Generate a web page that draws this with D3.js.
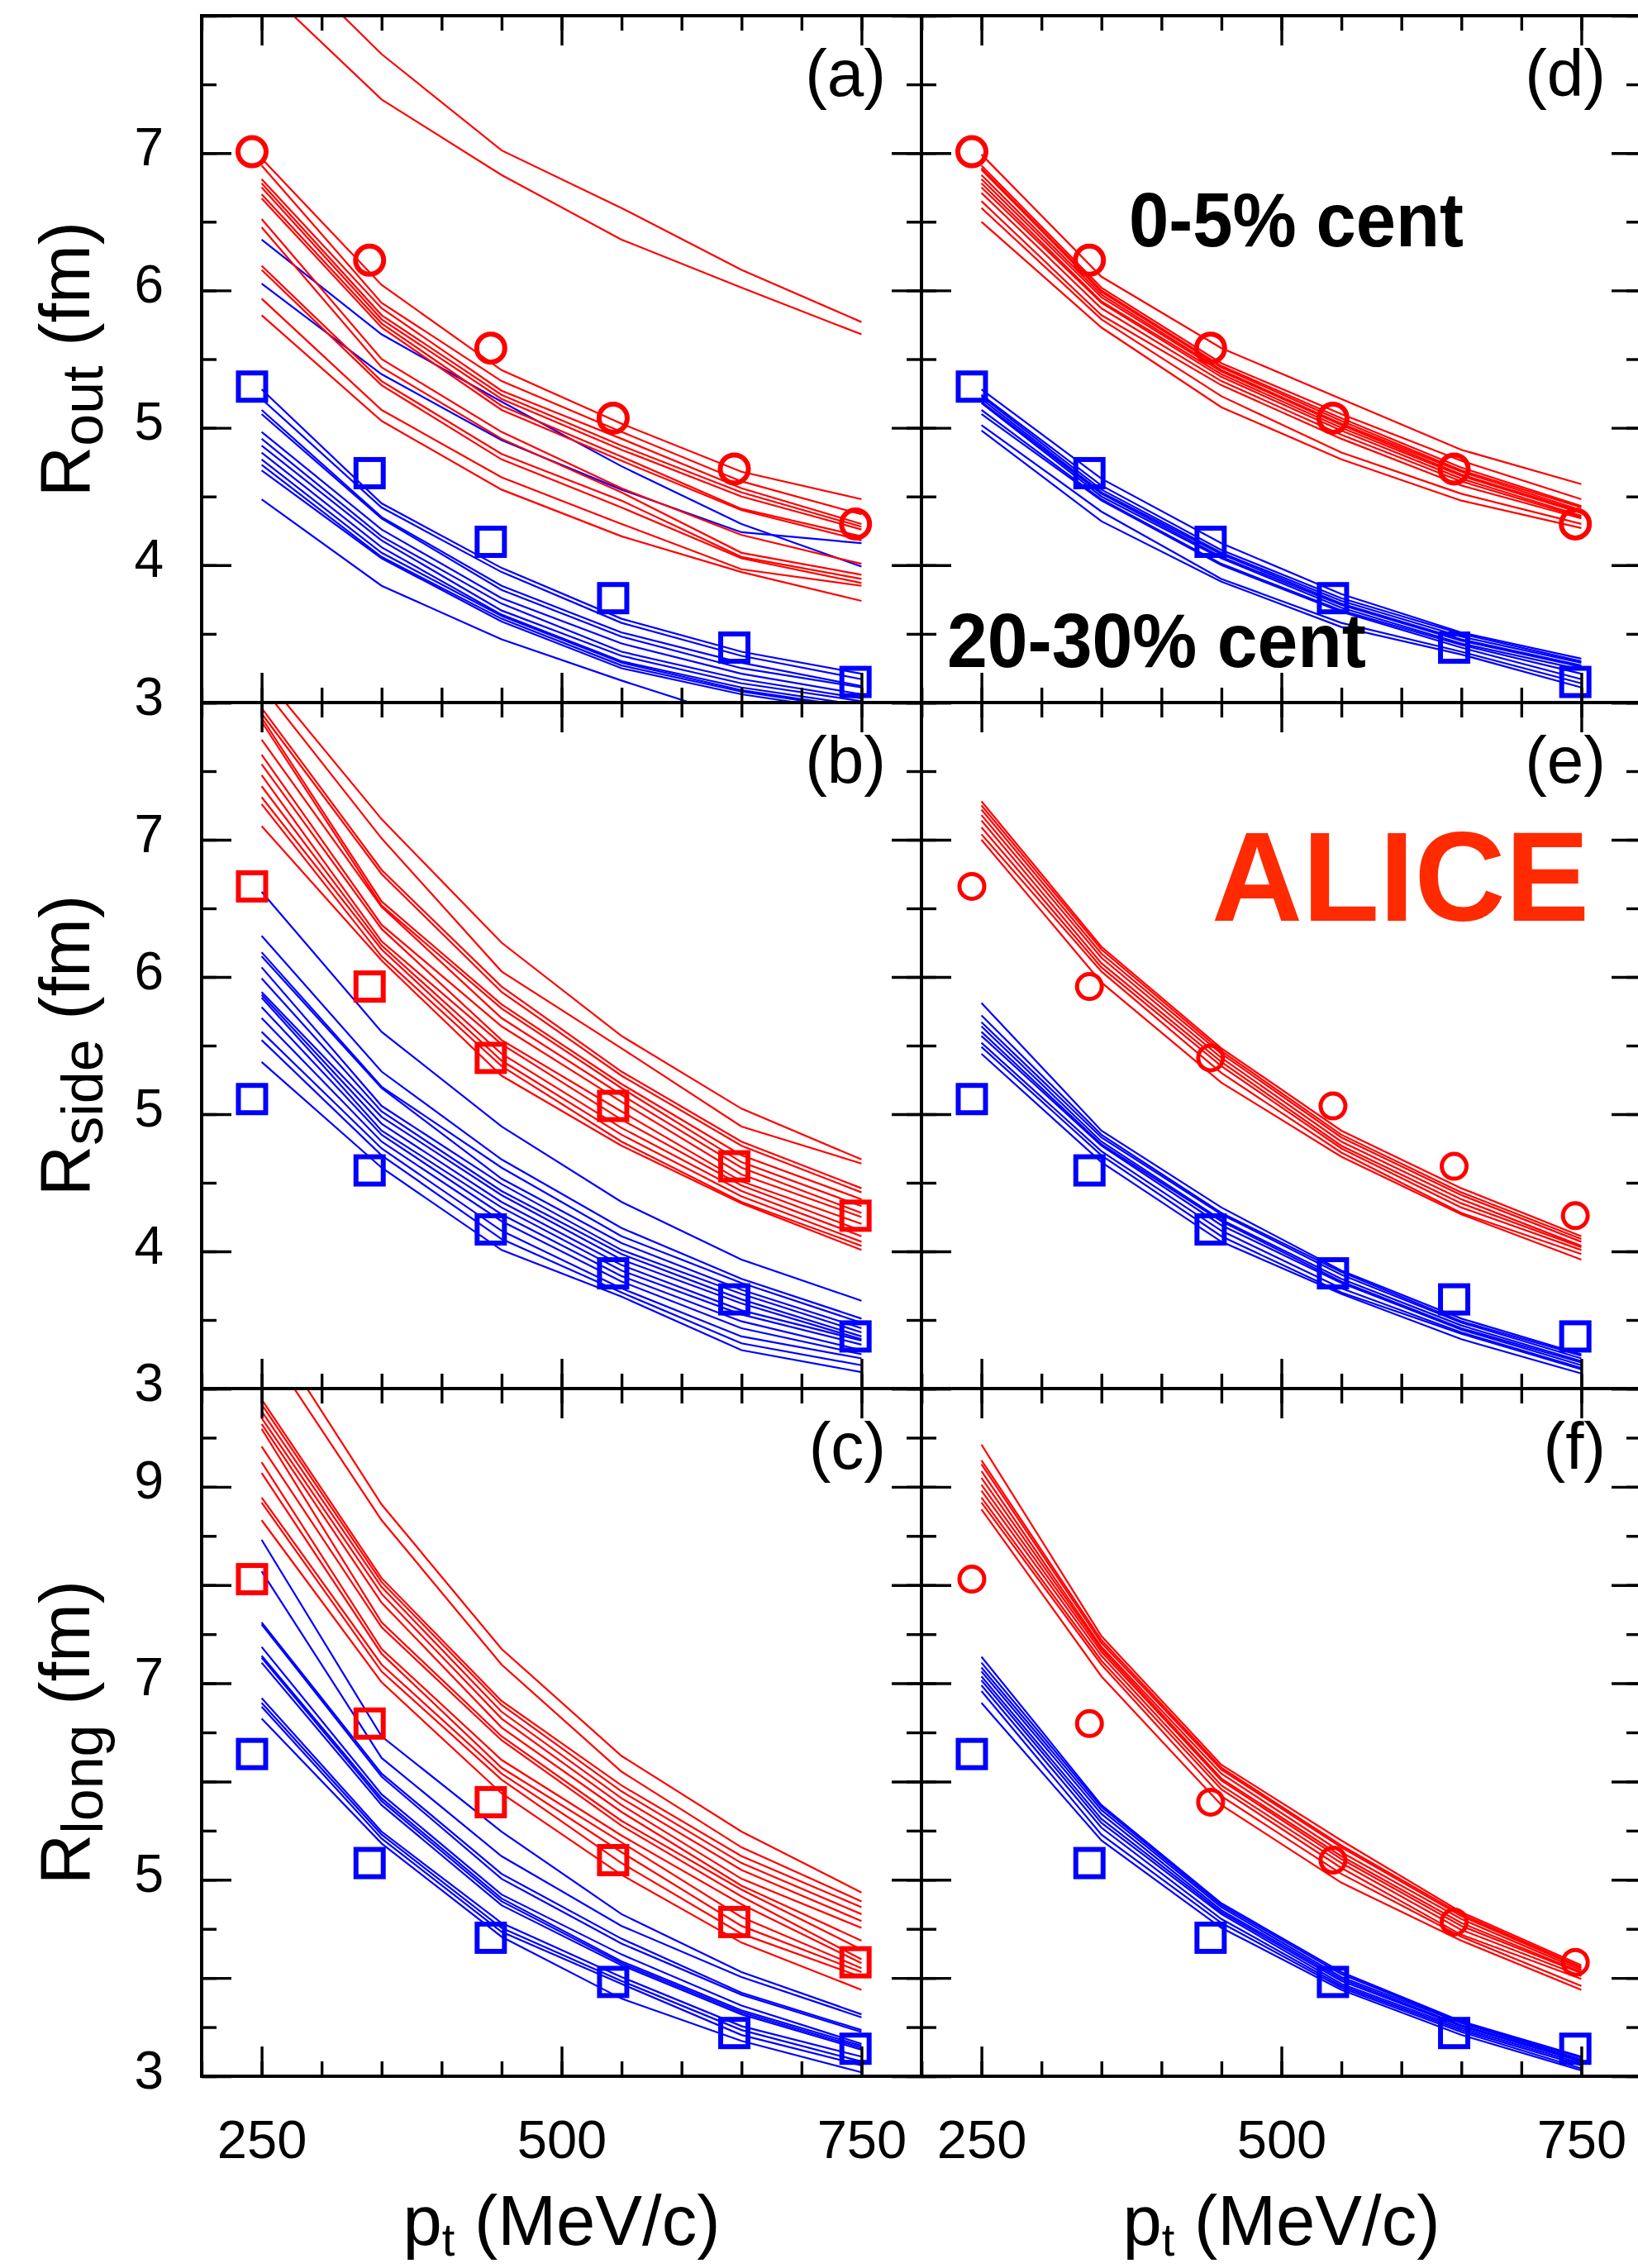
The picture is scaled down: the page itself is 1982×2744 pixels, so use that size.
<!DOCTYPE html>
<html>
<head>
<meta charset="utf-8">
<script src="https://cdn.jsdelivr.net/npm/d3@7"></script>
<style>
  body { margin: 0; background: #fff; }
  svg { display: block; }
  text { font-family: "Liberation Sans", Arial, Helvetica, sans-serif; }
</style>
</head>
<body>
<svg id="chart" width="1982" height="2744"></svg>
<script>
// pt where the model curves are evaluated, and where the ALICE points sit
const PT_MODEL = [250, 350, 450, 550, 650, 750];
const PT_DATA = [242, 340, 441, 543, 644, 745];

// ALICE radii (fm)
const ROUT_0_5   = [7.01, 6.22, 5.58, 5.07, 4.70, 4.30];
const ROUT_20_30 = [5.30, 4.67, 4.17, 3.76, 3.40, 3.15];
const RSIDE_0_5   = [6.66, 5.93, 5.41, 5.06, 4.62, 4.26];
const RSIDE_20_30 = [5.11, 4.59, 4.16, 3.84, 3.65, 3.38];
const RLONG_0_5   = [8.06, 6.59, 5.79, 5.20, 4.57, 4.16];
const RLONG_20_30 = [6.28, 5.17, 4.41, 3.96, 3.44, 3.28];

// model curves, one row per parameter set
const MODEL_A_RED = [
  [8.22, 7.39, 6.84, 6.37, 6.02, 5.68],
  [8.58, 7.72, 7.02, 6.60, 6.15, 5.77],
  [6.96, 6.04, 5.42, 5.03, 4.68, 4.48],
  [6.91, 5.91, 5.34, 4.97, 4.61, 4.37],
  [6.81, 5.87, 5.27, 4.92, 4.56, 4.30],
  [6.78, 5.82, 5.24, 4.87, 4.53, 4.28],
  [6.75, 5.79, 5.21, 4.84, 4.50, 4.26],
  [6.70, 5.76, 5.16, 4.79, 4.41, 4.21],
  [6.67, 5.73, 5.13, 4.76, 4.40, 4.18],
  [6.52, 5.50, 4.97, 4.56, 4.22, 4.01],
  [6.46, 5.44, 4.92, 4.53, 4.09, 3.93],
  [6.18, 5.34, 4.81, 4.47, 4.06, 3.90],
  [6.15, 5.31, 4.77, 4.42, 4.05, 3.87],
  [5.94, 5.13, 4.64, 4.30, 3.97, 3.85],
  [5.82, 5.05, 4.55, 4.21, 3.95, 3.74]
];
const MODEL_A_BLUE = [
  [6.37, 5.68, 5.19, 4.72, 4.30, 3.99],
  [6.05, 5.39, 4.91, 4.55, 4.24, 4.16],
  [5.28, 4.45, 3.98, 3.61, 3.37, 3.21],
  [5.21, 4.42, 3.95, 3.58, 3.34, 3.17],
  [5.13, 4.35, 3.85, 3.51, 3.29, 3.12],
  [5.10, 4.34, 3.82, 3.48, 3.25, 3.11],
  [4.97, 4.26, 3.76, 3.43, 3.21, 3.06],
  [4.92, 4.21, 3.72, 3.37, 3.17, 3.03],
  [4.87, 4.18, 3.67, 3.34, 3.14, 3.01],
  [4.82, 4.13, 3.64, 3.30, 3.11, 2.98],
  [4.77, 4.09, 3.63, 3.29, 3.09, 2.96],
  [4.73, 4.06, 3.61, 3.27, 3.08, 2.95],
  [4.69, 4.05, 3.59, 3.25, 3.06, 2.93],
  [4.48, 3.85, 3.46, 3.16, 2.88, 2.59]
];
const MODEL_B_RED = [
  [8.21, 7.15, 6.25, 5.57, 5.04, 4.67],
  [8.12, 7.01, 6.04, 5.48, 4.91, 4.64],
  [7.96, 6.78, 5.93, 5.31, 4.80, 4.46],
  [7.92, 6.75, 5.89, 5.28, 4.77, 4.43],
  [7.89, 6.55, 5.80, 5.22, 4.70, 4.38],
  [7.86, 6.52, 5.77, 5.19, 4.65, 4.33],
  [7.73, 6.51, 5.70, 5.14, 4.61, 4.28],
  [7.62, 6.38, 5.64, 5.09, 4.56, 4.25],
  [7.55, 6.35, 5.54, 5.02, 4.51, 4.20],
  [7.47, 6.26, 5.51, 4.96, 4.48, 4.15],
  [7.39, 6.23, 5.44, 4.90, 4.44, 4.11],
  [7.31, 6.20, 5.39, 4.85, 4.40, 4.07],
  [7.26, 6.15, 5.35, 4.80, 4.36, 4.04],
  [7.10, 6.12, 5.28, 4.77, 4.35, 4.01]
];
const MODEL_B_BLUE = [
  [6.62, 5.60, 4.91, 4.36, 3.94, 3.64],
  [6.30, 5.31, 4.67, 4.17, 3.80, 3.51],
  [6.18, 5.20, 4.61, 4.11, 3.77, 3.48],
  [6.15, 5.19, 4.53, 4.06, 3.72, 3.44],
  [6.07, 5.06, 4.49, 4.01, 3.69, 3.41],
  [5.99, 5.02, 4.44, 3.98, 3.65, 3.38],
  [5.89, 4.98, 4.41, 3.94, 3.62, 3.36],
  [5.87, 4.93, 4.36, 3.90, 3.57, 3.35],
  [5.85, 4.88, 4.32, 3.86, 3.54, 3.32],
  [5.78, 4.85, 4.27, 3.82, 3.49, 3.28],
  [5.70, 4.80, 4.22, 3.78, 3.44, 3.25],
  [5.60, 4.75, 4.15, 3.73, 3.38, 3.22],
  [5.54, 4.70, 4.09, 3.70, 3.33, 3.17],
  [5.38, 4.61, 4.01, 3.67, 3.28, 3.12]
];
const MODEL_C_RED = [
  [10.72, 8.82, 7.35, 6.26, 5.49, 4.87],
  [10.50, 8.66, 7.19, 6.10, 5.33, 4.78],
  [9.89, 8.07, 6.82, 5.96, 5.24, 4.72],
  [9.84, 8.03, 6.78, 5.90, 5.17, 4.65],
  [9.77, 7.98, 6.71, 5.83, 5.10, 4.58],
  [9.70, 7.91, 6.64, 5.76, 5.01, 4.51],
  [9.64, 7.82, 6.55, 5.69, 4.94, 4.38],
  [9.59, 7.62, 6.46, 5.60, 4.90, 4.29],
  [9.41, 7.57, 6.42, 5.55, 4.83, 4.19],
  [9.25, 7.35, 6.22, 5.45, 4.75, 4.15],
  [9.14, 7.30, 6.14, 5.38, 4.62, 4.10],
  [8.89, 7.19, 6.08, 5.28, 4.53, 4.06],
  [8.84, 7.12, 6.02, 5.17, 4.45, 4.01],
  [8.66, 7.01, 5.88, 5.05, 4.36, 3.88]
];
const MODEL_C_BLUE = [
  [8.46, 6.46, 5.49, 4.65, 4.06, 3.63],
  [8.14, 6.24, 5.24, 4.53, 4.01, 3.60],
  [7.62, 6.08, 5.06, 4.40, 3.85, 3.47],
  [7.60, 6.05, 5.01, 4.35, 3.83, 3.45],
  [7.37, 5.87, 4.85, 4.24, 3.72, 3.33],
  [7.28, 5.83, 4.81, 4.17, 3.67, 3.31],
  [7.26, 5.80, 4.78, 4.15, 3.65, 3.29],
  [7.21, 5.76, 4.74, 4.13, 3.63, 3.27],
  [6.85, 5.49, 4.56, 4.01, 3.51, 3.20],
  [6.80, 5.46, 4.51, 3.97, 3.47, 3.15],
  [6.76, 5.42, 4.47, 3.94, 3.42, 3.11],
  [6.64, 5.37, 4.42, 3.79, 3.36, 3.04]
];
const MODEL_D_RED = [
  [6.99, 6.10, 5.58, 5.21, 4.84, 4.59],
  [6.91, 6.02, 5.47, 5.10, 4.76, 4.48],
  [6.89, 6.00, 5.45, 5.07, 4.71, 4.43],
  [6.88, 5.99, 5.44, 5.05, 4.69, 4.42],
  [6.84, 5.97, 5.42, 5.03, 4.68, 4.40],
  [6.81, 5.95, 5.41, 5.02, 4.66, 4.39],
  [6.78, 5.92, 5.39, 5.00, 4.65, 4.38],
  [6.75, 5.91, 5.37, 4.98, 4.63, 4.36],
  [6.71, 5.87, 5.34, 4.95, 4.61, 4.35],
  [6.65, 5.82, 5.31, 4.92, 4.58, 4.34],
  [6.60, 5.79, 5.23, 4.82, 4.52, 4.30],
  [6.50, 5.73, 5.15, 4.77, 4.47, 4.27]
];
const MODEL_D_BLUE = [
  [5.28, 4.63, 4.16, 3.79, 3.51, 3.32],
  [5.24, 4.58, 4.11, 3.76, 3.50, 3.30],
  [5.23, 4.55, 4.09, 3.74, 3.48, 3.29],
  [5.21, 4.53, 4.08, 3.72, 3.46, 3.27],
  [5.19, 4.52, 4.06, 3.71, 3.45, 3.26],
  [5.18, 4.50, 4.05, 3.69, 3.43, 3.24],
  [5.13, 4.48, 4.01, 3.67, 3.42, 3.21],
  [5.10, 4.47, 4.00, 3.66, 3.40, 3.17],
  [5.02, 4.39, 3.90, 3.58, 3.37, 3.14],
  [4.98, 4.32, 3.88, 3.55, 3.35, 3.11]
];
const MODEL_E_RED = [
  [7.28, 6.22, 5.48, 4.88, 4.46, 4.11],
  [7.25, 6.20, 5.46, 4.85, 4.43, 4.09],
  [7.22, 6.17, 5.44, 4.83, 4.41, 4.07],
  [7.18, 6.14, 5.41, 4.80, 4.38, 4.04],
  [7.14, 6.10, 5.38, 4.77, 4.35, 4.03],
  [7.09, 6.07, 5.35, 4.75, 4.32, 4.01],
  [7.04, 6.04, 5.30, 4.72, 4.28, 3.98],
  [7.00, 5.96, 5.23, 4.69, 4.27, 3.94]
];
const MODEL_E_BLUE = [
  [5.81, 4.88, 4.32, 3.86, 3.51, 3.25],
  [5.72, 4.85, 4.28, 3.85, 3.49, 3.24],
  [5.67, 4.83, 4.27, 3.83, 3.48, 3.22],
  [5.64, 4.80, 4.23, 3.80, 3.46, 3.20],
  [5.60, 4.78, 4.22, 3.78, 3.44, 3.19],
  [5.57, 4.77, 4.19, 3.77, 3.43, 3.17],
  [5.52, 4.73, 4.15, 3.73, 3.41, 3.15],
  [5.49, 4.70, 4.11, 3.70, 3.40, 3.14],
  [5.44, 4.65, 4.07, 3.69, 3.36, 3.11]
];
const MODEL_F_RED = [
  [9.43, 7.48, 6.17, 5.40, 4.67, 4.13],
  [9.27, 7.44, 6.14, 5.35, 4.65, 4.11],
  [9.23, 7.41, 6.12, 5.33, 4.63, 4.10],
  [9.16, 7.37, 6.08, 5.28, 4.60, 4.08],
  [9.09, 7.35, 6.03, 5.24, 4.56, 4.06],
  [9.02, 7.32, 6.01, 5.21, 4.53, 4.05],
  [8.96, 7.28, 5.96, 5.17, 4.49, 4.02],
  [8.89, 7.23, 5.92, 5.12, 4.44, 3.99],
  [8.84, 7.19, 5.85, 5.06, 4.42, 3.92],
  [8.77, 7.07, 5.76, 4.97, 4.38, 3.88]
];
const MODEL_F_BLUE = [
  [7.27, 5.76, 4.76, 4.06, 3.56, 3.20],
  [7.21, 5.74, 4.74, 4.04, 3.55, 3.19],
  [7.16, 5.71, 4.72, 4.01, 3.54, 3.17],
  [7.12, 5.67, 4.69, 3.99, 3.52, 3.16],
  [7.07, 5.62, 4.67, 3.97, 3.51, 3.15],
  [7.03, 5.58, 4.65, 3.94, 3.49, 3.13],
  [6.98, 5.53, 4.60, 3.92, 3.47, 3.11],
  [6.92, 5.46, 4.56, 3.90, 3.45, 3.08],
  [6.80, 5.40, 4.51, 3.88, 3.42, 3.06]
];

// axes
const X_DOMAIN = [200, 800];
const X_LABELS = [250, 500, 750];
const Y_DOMAINS = [[3, 8], [3, 8], [3, 10]];
const Y_LABELS = [[3, 4, 5, 6, 7], [3, 4, 5, 6, 7], [3, 5, 7, 9]];
const Y_TITLES = [['R', 'out'], ['R', 'side'], ['R', 'long']];

const PANELS = [
  { id: 'a', col: 0, row: 0, red: MODEL_A_RED, blue: MODEL_A_BLUE, redPts: ROUT_0_5, bluePts: ROUT_20_30, redSym: 'circle' },
  { id: 'b', col: 0, row: 1, red: MODEL_B_RED, blue: MODEL_B_BLUE, redPts: RSIDE_0_5, bluePts: RSIDE_20_30, redSym: 'square' },
  { id: 'c', col: 0, row: 2, red: MODEL_C_RED, blue: MODEL_C_BLUE, redPts: RLONG_0_5, bluePts: RLONG_20_30, redSym: 'square' },
  { id: 'd', col: 1, row: 0, red: MODEL_D_RED, blue: MODEL_D_BLUE, redPts: ROUT_0_5, bluePts: ROUT_20_30, redSym: 'circle' },
  { id: 'e', col: 1, row: 1, red: MODEL_E_RED, blue: MODEL_E_BLUE, redPts: RSIDE_0_5, bluePts: RSIDE_20_30, redSym: 'circle', small: true },
  { id: 'f', col: 1, row: 2, red: MODEL_F_RED, blue: MODEL_F_BLUE, redPts: RLONG_0_5, bluePts: RLONG_20_30, redSym: 'circle', small: true }
];

// layout (px)
const COL_X = [244, 1115];
const PANEL_W = 871;
const ROW_Y = [[19, 850], [850, 1680], [1680, 2512]];
const RED = '#ff0000', BLUE = '#0000ff';

const svg = d3.select('#chart');
const defs = svg.append('defs');

function ticksBetween(lo, hi, step) {
  const out = [];
  for (let v = lo; v <= hi + 1e-9; v += step) out.push(+v.toFixed(4));
  return out;
}

PANELS.forEach(p => {
  const x0 = COL_X[p.col];
  const [yTop, yBot] = ROW_Y[p.row];
  const x = d3.scaleLinear().domain(X_DOMAIN).range([x0, x0 + PANEL_W]);
  const y = d3.scaleLinear().domain(Y_DOMAINS[p.row]).range([yBot, yTop]);

  defs.append('clipPath').attr('id', `clip-${p.id}`)
    .append('rect')
    .attr('x', x0).attr('y', yTop)
    .attr('width', PANEL_W).attr('height', yBot - yTop);

  const g = svg.append('g').attr('clip-path', `url(#clip-${p.id})`);
  const line = d3.line().x((d, i) => x(PT_MODEL[i])).y(d => y(d));

  p.blue.forEach(c => {
    g.append('path').attr('d', line(c))
      .attr('fill', 'none').attr('stroke', BLUE).attr('stroke-width', 2.2);
  });
  p.red.forEach(c => {
    g.append('path').attr('d', line(c))
      .attr('fill', 'none').attr('stroke', RED).attr('stroke-width', 2.2);
  });

  // data markers
  const sq = 33, sw = 6;
  g.selectAll(null).data(p.bluePts).enter().append('rect')
    .attr('x', (d, i) => x(PT_DATA[i]) - sq / 2)
    .attr('y', d => y(d) - sq / 2)
    .attr('width', sq).attr('height', sq)
    .attr('fill', 'none').attr('stroke', BLUE).attr('stroke-width', sw);
  if (p.redSym === 'square') {
    g.selectAll(null).data(p.redPts).enter().append('rect')
      .attr('x', (d, i) => x(PT_DATA[i]) - sq / 2)
      .attr('y', d => y(d) - sq / 2)
      .attr('width', sq).attr('height', sq)
      .attr('fill', 'none').attr('stroke', RED).attr('stroke-width', sw);
  } else {
    g.selectAll(null).data(p.redPts).enter().append('circle')
      .attr('cx', (d, i) => x(PT_DATA[i]))
      .attr('cy', d => y(d))
      .attr('r', p.small ? 15 : 17)
      .attr('fill', 'none').attr('stroke', RED).attr('stroke-width', p.small ? 5 : 6);
  }

  // ticks on all four sides, pointing inwards
  const xMinor = ticksBetween(200, 800, 50), xMajor = X_LABELS;
  const [ylo, yhi] = Y_DOMAINS[p.row];
  const yMinor = ticksBetween(ylo, yhi, 0.5), yMajor = ticksBetween(ylo, yhi, 1);

  const axes = [
    [d3.axisBottom(x), 0, yBot, xMinor, xMajor],
    [d3.axisTop(x), 0, yTop, xMinor, xMajor],
    [d3.axisLeft(y), x0, 0, yMinor, yMajor],
    [d3.axisRight(y), x0 + PANEL_W, 0, yMinor, yMajor]
  ];
  axes.forEach(([ax, tx, ty, minor, major]) => {
    [[minor, 18], [major, 36]].forEach(([vals, len]) => {
      const a = svg.append('g')
        .attr('transform', `translate(${tx},${ty})`)
        .call(ax.tickValues(vals).tickSize(-len).tickFormat(''));
      a.select('.domain').remove();
      a.selectAll('line').attr('stroke', '#000').attr('stroke-width', 3.4);
    });
  });

  // frame
  svg.append('rect')
    .attr('x', x0).attr('y', yTop)
    .attr('width', PANEL_W).attr('height', yBot - yTop)
    .attr('fill', 'none').attr('stroke', '#000').attr('stroke-width', 4);

  // y tick labels (left column only)
  if (p.col === 0) {
    const ly = svg.append('g')
      .attr('transform', `translate(${x0},0)`)
      .call(d3.axisLeft(y).tickValues(Y_LABELS[p.row]).tickSize(0).tickPadding(46).tickFormat(d3.format('d')));
    ly.select('.domain').remove();
    ly.selectAll('text')
      .attr('font-size', 64).attr('fill', '#000')
      .attr('font-family', '"Liberation Sans", Arial, sans-serif')
      .attr('dy', '0.22em');
  }

  // x tick labels (bottom row only)
  if (p.row === 2) {
    const lx = svg.append('g')
      .attr('transform', `translate(0,${yBot})`)
      .call(d3.axisBottom(x).tickValues(X_LABELS).tickSize(0).tickPadding(53).tickFormat(d3.format('d')));
    lx.select('.domain').remove();
    lx.selectAll('text')
      .attr('font-size', 65).attr('fill', '#000')
      .attr('font-family', '"Liberation Sans", Arial, sans-serif');

    const t = svg.append('text')
      .attr('x', x0 + PANEL_W / 2).attr('y', 2716)
      .attr('text-anchor', 'middle').attr('font-size', 85);
    t.append('tspan').text('p');
    t.append('tspan').attr('font-size', 56).attr('dy', 13).text('t');
    t.append('tspan').attr('dy', -13).text(' (MeV/c)');
  }

  // panel letter
  svg.append('text')
    .attr('x', x0 + PANEL_W - 43).attr('y', yTop + 97)
    .attr('text-anchor', 'end').attr('font-size', 80)
    .text(`(${p.id})`);
});

// y axis titles
ROW_Y.forEach(([yTop, yBot], r) => {
  const [main, sub] = Y_TITLES[r];
  const t = svg.append('text')
    .attr('transform', `translate(108,${(yTop + yBot) / 2}) rotate(-90)`)
    .attr('text-anchor', 'middle').attr('font-size', 85);
  t.append('tspan').text(main);
  t.append('tspan').attr('font-size', 70).attr('dy', 16).text(sub);
  t.append('tspan').attr('dy', -16).text(' (fm)');
});

// annotations
svg.append('text')
  .attr('x', 1366).attr('y', 298)
  .attr('font-family', 'Lato, "Open Sans", sans-serif').attr('font-weight', 900)
  .attr('font-size', 92).attr('textLength', 405).attr('lengthAdjust', 'spacingAndGlyphs')
  .text('0-5% cent');
svg.append('text')
  .attr('x', 1146).attr('y', 807)
  .attr('font-family', 'Lato, "Open Sans", sans-serif').attr('font-weight', 900)
  .attr('font-size', 92).attr('textLength', 507).attr('lengthAdjust', 'spacingAndGlyphs')
  .text('20-30% cent');
svg.append('text')
  .attr('x', 1466).attr('y', 1114)
  .attr('font-family', 'Lato, "Open Sans", sans-serif').attr('font-weight', 700)
  .attr('font-size', 154).attr('textLength', 457).attr('lengthAdjust', 'spacingAndGlyphs')
  .attr('fill', '#ff2a00')
  .text('ALICE');
</script>
</body>
</html>
